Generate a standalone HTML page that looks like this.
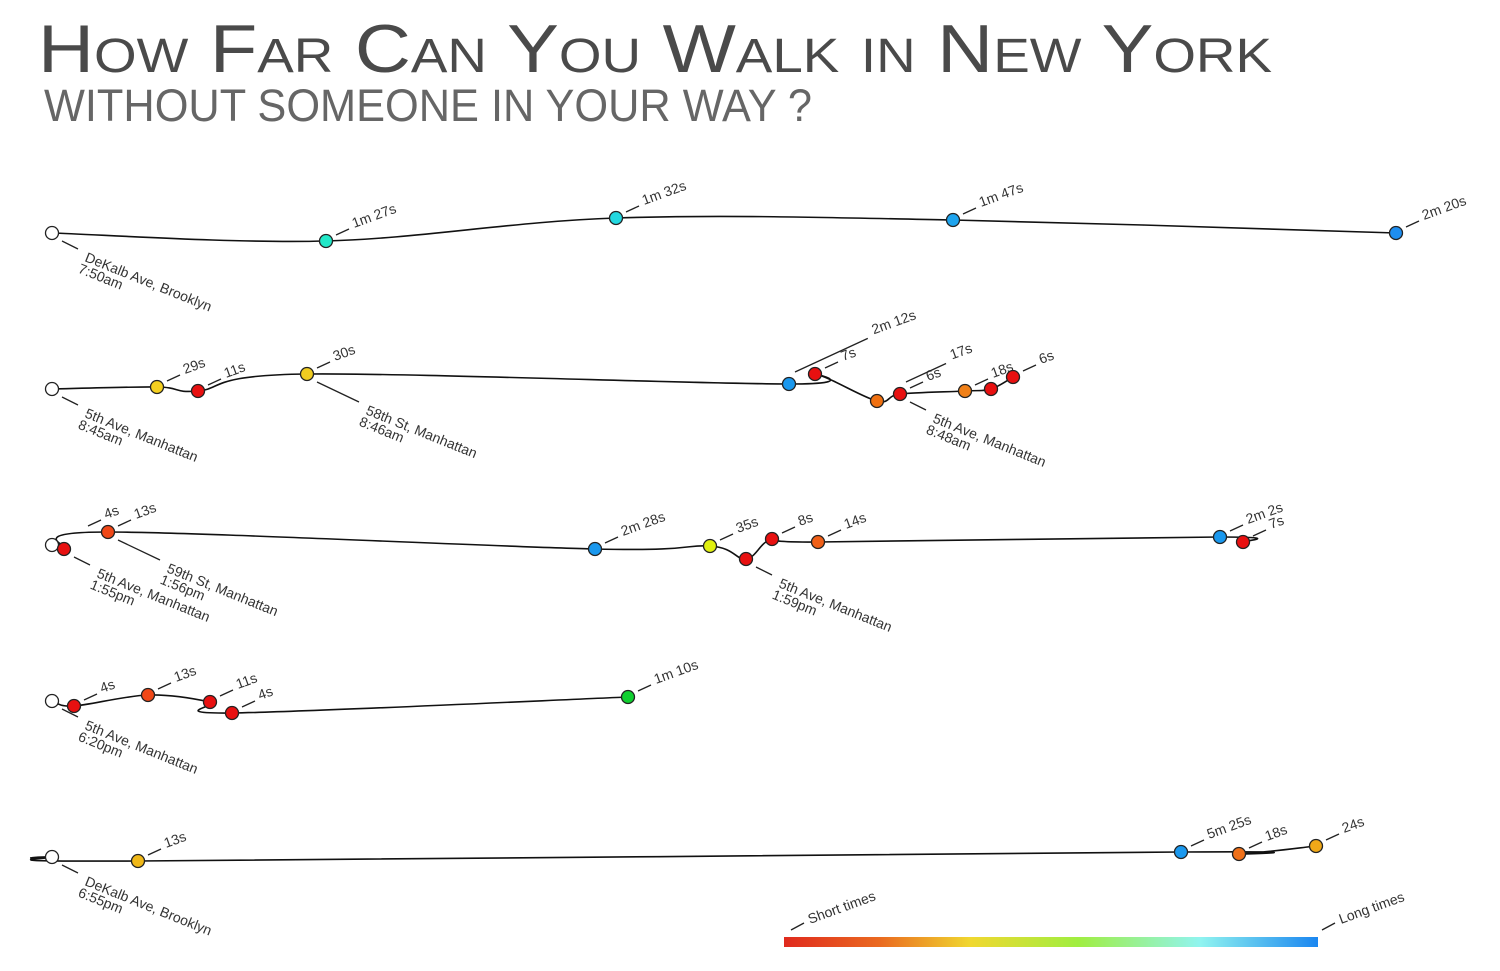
<!DOCTYPE html>
<html><head><meta charset="utf-8"><style>
html,body{margin:0;padding:0;background:#fff;}
svg{display:block;font-family:"Liberation Sans",sans-serif;}
</style></head><body>
<svg id="chart" width="1500" height="971" viewBox="0 0 1500 971" xmlns="http://www.w3.org/2000/svg">
<text x="38" y="72" font-size="68" fill="#4a4a4a" textLength="1234" lengthAdjust="spacingAndGlyphs" style="font-variant:small-caps">How Far Can You Walk in New York</text>
<text x="44" y="121" font-size="45" fill="#666" textLength="768" lengthAdjust="spacingAndGlyphs">WITHOUT SOMEONE IN YOUR WAY ?</text>
<g id="rows"></g>
<defs><linearGradient id="lg" x1="0" x2="1" y1="0" y2="0">
<stop offset="0" stop-color="#e02a1e"/><stop offset="0.18" stop-color="#ea6a20"/><stop offset="0.35" stop-color="#f0d830"/><stop offset="0.55" stop-color="#a0ee40"/><stop offset="0.78" stop-color="#90f4f0"/><stop offset="1" stop-color="#1a86f0"/></linearGradient></defs>
<rect x="784" y="937" width="534" height="10" fill="url(#lg)"/>
<line x1="791" y1="930" x2="804" y2="923" stroke="#222" stroke-width="1.3"/>
<text transform="translate(810,924) rotate(-20)" font-size="14" fill="#333">Short times</text>
<line x1="1322" y1="930" x2="1335" y2="923" stroke="#222" stroke-width="1.3"/>
<text transform="translate(1341,924) rotate(-20)" font-size="14" fill="#333">Long times</text>
</svg>
<script>
// row baselines
const rowBase = [233, 389, 545, 701, 857];
// positions along walk (distance units) per row
const row1Pos = [0, 274, 564, 901, 1344];
const row1Off = [0, 8, -15, -13, 0];
const row1Labels = ["", "1m 27s", "1m 32s", "1m 47s", "2m 20s"];
const row1Colors = ["#fff", "#22e8c8", "#22d8e0", "#1ea4ee", "#1e8ef0"];
const row2Pos = [0, 105, 146, 255, 737, 763, 825, 848, 913, 939, 961];
const row2Off = [0, -2, 2, -15, -5, -15, 12, 5, 2, 0, -12];
const row2Labels = ["", "29s", "11s", "30s", "", "7s", "", "6s", "18s", "", "6s"];
const row2Colors = ["#fff", "#f5d020", "#e81010", "#f0cc20", "#1a98ee", "#e81010", "#f07010", "#e81010", "#f08018", "#e81010", "#e81010"];
const row3Pos = [0, 12, 56, 543, 658, 694, 720, 766, 1168, 1191];
const row3Off = [0, 4, -13, 4, 1, 14, -6, -3, -8, -3];
const row3Labels = ["", "", "13s", "2m 28s", "35s", "", "8s", "14s", "2m 2s", "7s"];
const row3Colors = ["#fff", "#e81010", "#f04818", "#1a98ee", "#e0f010", "#e81010", "#e81010", "#f06018", "#1a98ee", "#e81010"];
const row4Pos = [0, 22, 96, 158, 180, 576];
const row4Off = [0, 5, -6, 1, 12, -4];
const row4Labels = ["", "4s", "13s", "11s", "4s", "1m 10s"];
const row4Colors = ["#fff", "#e81010", "#f04818", "#e81010", "#e81010", "#10d030"];
const row5Pos = [-22, 0, 86, 1129, 1187, 1264];
const row5Off = [1, 0, 4, -5, -3, -11];
const row5Labels = ["", "", "13s", "5m 25s", "18s", "24s"];
const row5Colors = ["none", "#fff", "#f0b818", "#1a98ee", "#f07018", "#f0a818"];
// place names (row, point index, line1, line2)
const placeRow = [0, 1, 1, 1, 2, 2, 2, 3, 4];
const placeIdx = [0, 0, 3, 7, 1, 2, 5, 0, 1];
const placeName = ["DeKalb Ave, Brooklyn", "5th Ave, Manhattan", "58th St, Manhattan", "5th Ave, Manhattan", "5th Ave, Manhattan", "59th St, Manhattan", "5th Ave, Manhattan", "5th Ave, Manhattan", "DeKalb Ave, Brooklyn"];
const placeTime = ["7:50am", "8:45am", "8:46am", "8:48am", "1:55pm", "1:56pm", "1:59pm", "6:20pm", "6:55pm"];
// extra long-leader labels on row 2
const extraIdx = [4, 7];
const extraText = ["2m 12s", "17s"];

const xs = v => 52 + v;
const ys = (r, o) => rowBase[r] + o;
const rows = [[row1Pos,row1Off,row1Labels,row1Colors],[row2Pos,row2Off,row2Labels,row2Colors],[row3Pos,row3Off,row3Labels,row3Colors],[row4Pos,row4Off,row4Labels,row4Colors],[row5Pos,row5Off,row5Labels,row5Colors]];
const NS = "http://www.w3.org/2000/svg";
const g = document.getElementById('rows');
function mk(t, a){const e=document.createElementNS(NS,t);for(const k in a)e.setAttribute(k,a[k]);return e;}
function upLabel(px, py, txt){
  g.appendChild(mk('line',{x1:px+10,y1:py-6,x2:px+23,y2:py-12,stroke:'#222','stroke-width':1.3}));
  const t = mk('text',{transform:`translate(${px+28},${py-13}) rotate(-20)`,'font-size':14,fill:'#333'});
  
  
  t.textContent = txt;
  g.appendChild(t);
}
rows.forEach((row, r) => {
  const [pos, off, lab, col] = row;
  const pts = pos.map((p,i)=>[xs(p), ys(r, off[i])]);
  let d = `M${pts[0][0]},${pts[0][1]}`;
  for (let i=0;i<pts.length-1;i++){
    const p0=pts[Math.max(0,i-1)],p1=pts[i],p2=pts[i+1],p3=pts[Math.min(pts.length-1,i+2)];
    const c1=[p1[0]+(p2[0]-p0[0])/6,p1[1]+(p2[1]-p0[1])/6], c2=[p2[0]-(p3[0]-p1[0])/6,p2[1]-(p3[1]-p1[1])/6];
    d+=` C${c1[0]},${c1[1]} ${c2[0]},${c2[1]} ${p2[0]},${p2[1]}`;
  }
  const path = mk('path',{d:d,fill:'none',stroke:'#111','stroke-width':1.6});
  
  
  g.appendChild(path);
  pts.forEach((p,i)=>{
    if (col[i] !== 'none') {
      const c = mk('circle',{cx:p[0],cy:p[1],r:6.5,fill:col[i],stroke:'#222','stroke-width':1.3});
      
      
      g.appendChild(c);
    }
    if (lab[i]) upLabel(p[0], p[1], lab[i]);
  });
});
// "4s" label for row 3 (leader left of point)
upLabel(xs(row3Pos[2]) - 30, ys(2,row3Off[2]), "4s");
extraIdx.forEach((idx,k)=>{
  const x = xs(row2Pos[idx]), y = ys(1,row2Off[idx]);
  const len = k===0?80:44;
  g.appendChild(mk('line',{x1:x+6,y1:y-12,x2:x+6+len*0.91,y2:y-12-len*0.42,stroke:'#222','stroke-width':1.3}));
  const t = mk('text',{transform:`translate(${x+12+len*0.91},${y-16-len*0.42}) rotate(-20)`,'font-size':14,fill:'#333'});
  
  
  t.textContent = extraText[k];
  g.appendChild(t);
});
placeRow.forEach((r,k)=>{
  const row = rows[r];
  const x = xs(row[0][placeIdx[k]]), y = ys(r,row[1][placeIdx[k]]);
  const long = (k===2||k===5);
  const dx = long?42:16, dy = long?20:8;
  g.appendChild(mk('line',{x1:x+10,y1:y+8,x2:x+10+dx,y2:y+8+dy,stroke:'#222','stroke-width':1.3}));
  const t = mk('text',{transform:`translate(${x+16+dx},${y+20+dy}) rotate(22)`,'font-size':14,fill:'#333'});
  
  
  const s1 = mk('tspan',{x:0,dy:0}); s1.textContent = placeName[k];
  const s2 = mk('tspan',{x:-2,dy:13}); s2.textContent = placeTime[k];
  t.appendChild(s1); t.appendChild(s2);
  g.appendChild(t);
});
</script>
</body></html>
